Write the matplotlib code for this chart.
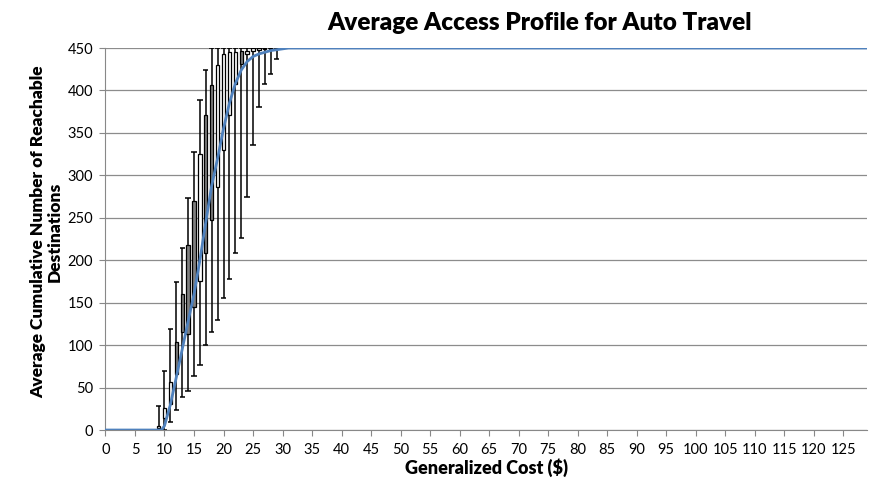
import numpy as np
import matplotlib
matplotlib.use("Agg")
import matplotlib.pyplot as plt

plt.rcParams['font.family'] = ['Lato', 'DejaVu Sans']

# generalized cost ($) with a box per value
cost = [9, 10, 11, 12, 13, 14, 15, 16, 17, 18, 19, 20, 21, 22, 23, 24, 25, 26, 27, 28, 29]
low = [0, 0, 9, 23, 39, 46, 64, 77, 100, 116, 130, 156, 178, 208, 226, 274, 336, 381, 408, 419, 437]
high = [28, 69, 119, 174, 215, 273, 328, 389, 424, 450, 450, 450, 450, 450, 450, 450, 450, 450, 450, 450, 450]
# open / close (gray box when close < open)
open_ = [2, 14, 31, 104, 160, 218, 270, 176, 371, 406, 286, 330, 371, 408, 446, 443, 447, 448, 449, 449, 450]
close = [5, 26, 57, 66, 116, 113, 145, 325, 209, 247, 430, 443, 445, 445, 431, 447, 450, 450, 450, 450, 450]

# average profile curve
curve_x = [0, 9, 9.5, 10, 11, 12, 13, 14, 15, 16, 17, 18, 19, 20, 21, 22, 23, 24, 25, 26, 27, 28, 29, 30, 31, 129]
curve_y = [0, 0, 0, 5, 30, 62, 95, 128, 160, 200, 245, 288, 320, 355, 385, 408, 424, 434, 440, 443, 445, 447, 448, 449, 450, 450]

fig = plt.figure(figsize=(8.73, 4.9), dpi=100)
ax = fig.add_axes([0.1208, 0.1224, 0.8722, 0.7796])

c = np.array(cost)
lo = np.array(low)
hi = np.array(high)
op = np.array(open_)
cl = np.array(close)

# whiskers
ax.vlines(c, lo, hi, color='black', lw=1.1, zorder=2)
ax.hlines(lo, c - 0.45, c + 0.45, color='black', lw=1.1, zorder=2)
ax.hlines(hi, c - 0.45, c + 0.45, color='black', lw=1.1, zorder=2)

# up/down boxes
bottom = np.minimum(op, cl)
height = np.abs(cl - op)
fills = ['#808080' if cl[i] < op[i] else 'white' for i in range(len(c))]
ax.bar(c, height, bottom=bottom, width=0.55, color=fills, edgecolor='black',
       linewidth=0.9, zorder=3)

# average curve
ax.plot(curve_x, curve_y, color='#4f81bd', lw=2, zorder=4,
        solid_joinstyle='round')

ax.set_xlim(0, 129)
ax.set_ylim(0, 450)
ax.set_xticks(np.arange(0, 126, 5))
ax.set_yticks(np.arange(0, 451, 50))
ax.tick_params(axis='x', length=4, color='#888888', labelsize=10.5, pad=5)
ax.tick_params(axis='y', length=4, color='#888888', labelsize=10.5, pad=5)
ax.yaxis.grid(True, color='#8c8c8c', lw=0.9)
ax.set_axisbelow(True)
for s in ['top', 'right']:
    ax.spines[s].set_visible(False)
ax.spines['left'].set_color('#888888')
ax.spines['bottom'].set_color('#888888')

fig.text(540 / 873, 1 - 23 / 490, 'Average Access Profile for Auto Travel',
         fontsize=17.5, fontweight='heavy', ha='center', va='center')
ax.set_xlabel('Generalized Cost ($)', fontsize=13, fontweight='heavy')
ax.xaxis.set_label_coords(0.5, -0.075)
ax.set_ylabel('Average Cumulative Number of Reachable\nDestinations',
              fontsize=12.5, fontweight='heavy', linespacing=1.05)
ax.yaxis.set_label_coords(-0.056, 0.52)

fig.savefig('out.png', dpi=100)
